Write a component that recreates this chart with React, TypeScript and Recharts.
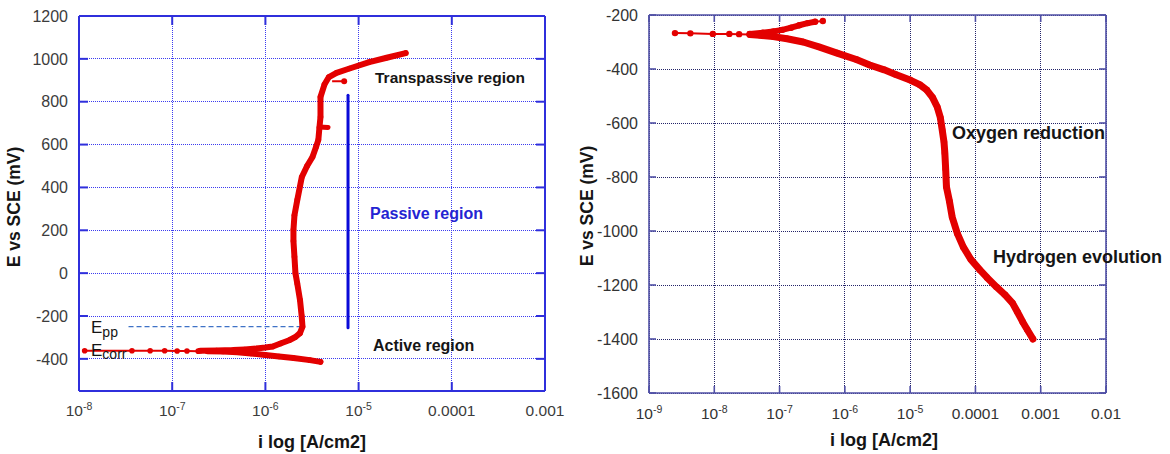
import React from 'react';
import { ComposedChart, Line, XAxis, YAxis, CartesianGrid } from 'recharts';

const FONT = '"Liberation Sans", Arial, Helvetica, sans-serif';
const RED = '#e30000';

// ---------- Left plot: passivating metal ----------
const passXTicks = [1e-8, 1e-7, 1e-6, 1e-5, 1e-4, 1e-3];
const passXTickText = ['10|-8', '10|-7', '10|-6', '10|-5', '0.0001', '0.001'];
const passYTicks = [-400, -200, 0, 200, 400, 600, 800, 1000, 1200];

// cathodic branch, scanned toward Ecorr
const passCathodicI = [3.9e-6, 3.0e-6, 2.0e-6, 1.4e-6, 1.0e-6, 7.0e-7, 5.0e-7, 3.5e-7, 2.4e-7, 1.9e-7, 1.44e-7, 1.13e-7, 8.3e-8, 5.8e-8, 3.7e-8, 1.15e-8];
const passCathodicE = [-414, -406, -396, -389, -382, -375, -369, -366, -364, -364, -363, -363, -362, -362, -362, -362];

// anodic branch: active, passive and transpassive regions
const passAnodicI = [2.0e-7, 3.0e-7, 4.5e-7, 6.0e-7, 8.0e-7, 1.0e-6, 1.2e-6, 1.45e-6, 1.8e-6, 2.1e-6, 2.35e-6, 2.5e-6, 2.45e-6, 2.35e-6, 2.2e-6, 2.1e-6, 2.05e-6, 2.0e-6, 2.0e-6, 2.05e-6, 2.2e-6, 2.46e-6, 2.8e-6, 3.2e-6, 3.5e-6, 3.7e-6, 3.8e-6, 3.9e-6, 3.9e-6, 4.3e-6, 4.8e-6, 5.8e-6, 8.0e-6, 1.3e-5, 2.0e-5, 3.2e-5];
const passAnodicE = [-362, -361, -359, -356, -352, -347, -342, -328, -313, -298, -280, -250, -200, -125, -50, 0, 76, 150, 202, 270, 342, 449, 500, 542, 590, 622, 680, 729, 822, 880, 915, 935, 955, 985, 1005, 1027];

// short current transients on the passive film
const transientAI = [3.8e-6, 4.7e-6];
const transientAE = [682, 680];
const transientBI = [5.2e-6, 7.0e-6];
const transientBE = [896, 895];

// passive range marker and primary passivation potential
const passiveBarI = [7.7e-6, 7.7e-6];
const passiveBarE = [-255, 830];
const eppI = [3.4e-8, 2.5e-6];
const eppE = [-250, -250];

// ---------- Right plot: oxygen / hydrogen cathodic reactions ----------
const corrXTicks = [1e-9, 1e-8, 1e-7, 1e-6, 1e-5, 1e-4, 1e-3, 1e-2];
const corrXTickText = ['10|-9', '10|-8', '10|-7', '10|-6', '10|-5', '0.0001', '0.001', '0.01'];
const corrYTicks = [-1600, -1400, -1200, -1000, -800, -600, -400, -200];

const corrCathodicI = [7.6e-4, 6.2e-4, 5.3e-4, 4.4e-4, 3.7e-4, 2.8e-4, 2.1e-4, 1.5e-4, 1.17e-4, 8.5e-5, 6.5e-5, 5.3e-5, 4.4e-5, 4.0e-5, 3.6e-5, 3.5e-5, 3.4e-5, 3.3e-5, 3.1e-5, 2.9e-5, 2.6e-5, 2.2e-5, 1.8e-5, 1.4e-5, 1.0e-5, 6.0e-6, 4.0e-6, 2.4e-6, 1.5e-6, 7.6e-7, 4.0e-7, 2.3e-7, 1.3e-7, 8.0e-8, 5.0e-8, 3.5e-8, 2.4e-8, 1.7e-8, 9.5e-9, 4.3e-9, 2.5e-9];
const corrCathodicE = [-1400, -1365, -1337, -1300, -1267, -1235, -1207, -1172, -1144, -1105, -1059, -1010, -948, -890, -837, -770, -711, -670, -626, -580, -541, -505, -478, -458, -441, -420, -403, -385, -365, -341, -318, -300, -288, -280, -275, -272, -271, -270, -270, -268, -267];

const corrAnodicI = [3.5e-8, 5.5e-8, 8.0e-8, 1.1e-7, 1.5e-7, 2.0e-7, 2.7e-7, 3.5e-7, 4.6e-7];
const corrAnodicE = [-270, -266, -261, -255, -247, -238, -230, -225, -222];

type Pt = { i: number; e: number };
const zip = (cur: number[], pot: number[]): Pt[] => cur.map((i, k) => ({ i, e: pot[k] }));

const BlankTick = () => <g />;

function XTick(props: any) {
  const { x, y, payload, ticks, texts, dy, fill } = props;
  const k = (ticks as number[]).findIndex((t) => Math.abs(t - payload.value) <= t * 1e-6);
  const [base, sup] = (texts[k] ?? '').split('|');
  return (
    <text x={x} y={y + dy} textAnchor="middle" fill={fill} fontSize={15.5} fontFamily={FONT}>
      {base}
      {sup ? (
        <tspan dy={-6} fontSize={10.5}>
          {sup}
        </tspan>
      ) : null}
    </text>
  );
}

const redDot = (r: number) => ({ r, fill: RED, stroke: RED, strokeWidth: 0 });

function PassivePlot() {
  const AX = '#2f2fdc';
  const GRID = '#3c3cf0';
  const cath = zip(passCathodicI, passCathodicE);
  const anod = zip(passAnodicI, passAnodicE);
  const dom: [number, number] = [1e-8, 1e-3];
  const ydom: [number, number] = [-550, 1200];
  const edge = { stroke: AX, strokeWidth: 2 };
  return (
    <ComposedChart width={570} height={454} margin={{ top: 16, right: 25, bottom: 0, left: 0 }}>
      <CartesianGrid stroke={GRID} strokeDasharray="1 1" strokeWidth={1} shapeRendering="crispEdges" />
      <XAxis
        xAxisId={0}
        dataKey="i"
        type="number"
        scale="log"
        domain={dom}
        ticks={passXTicks}
        interval={0}
        allowDataOverflow
        height={63}
        tickLine={false}
        tickSize={0}
        tickMargin={0}
        axisLine={edge}
        tick={(p: any) => <XTick {...p} ticks={passXTicks} texts={passXTickText} dy={25} fill="#3c3c3c" />}
      />
      <XAxis xAxisId="top" orientation="top" mirror dataKey="i" type="number" scale="log" domain={dom} ticks={passXTicks} interval={0} allowDataOverflow tick={BlankTick} tickLine={edge} tickSize={9} axisLine={edge} />
      <XAxis xAxisId="bot" orientation="bottom" mirror dataKey="i" type="number" scale="log" domain={dom} ticks={passXTicks} interval={0} allowDataOverflow tick={BlankTick} tickLine={edge} tickSize={9} axisLine={false} />
      <YAxis
        yAxisId={0}
        type="number"
        domain={ydom}
        ticks={passYTicks}
        interval={0}
        allowDataOverflow
        width={79}
        tickLine={false}
        tickSize={0}
        tickMargin={11}
        axisLine={edge}
        tick={{ fill: '#3c3c3c', fontSize: 16, fontFamily: FONT }}
      />
      <YAxis yAxisId="in" orientation="left" mirror type="number" domain={ydom} ticks={passYTicks} interval={0} allowDataOverflow tick={BlankTick} tickLine={edge} tickSize={9} axisLine={false} />
      <YAxis yAxisId="rt" orientation="right" mirror type="number" domain={ydom} ticks={passYTicks} interval={0} allowDataOverflow tick={BlankTick} tickLine={edge} tickSize={9} axisLine={edge} />

      <Line data={zip(eppI, eppE)} dataKey="e" stroke="#3f72c6" strokeWidth={1.2} strokeDasharray="5 3" dot={false} activeDot={false} isAnimationActive={false} />
      <Line data={zip(passiveBarI, passiveBarE)} dataKey="e" stroke="#0a0ad8" strokeWidth={3} strokeLinecap="round" dot={false} activeDot={false} isAnimationActive={false} />

      <Line data={cath} dataKey="e" stroke={RED} strokeWidth={2} dot={redDot(2.8)} activeDot={false} isAnimationActive={false} />
      <Line data={anod} dataKey="e" stroke={RED} strokeWidth={2} dot={redDot(2.8)} activeDot={false} isAnimationActive={false} />
      <Line data={cath.filter((p) => p.i >= 2.4e-7)} dataKey="e" stroke={RED} strokeWidth={6} strokeLinejoin="round" strokeLinecap="round" dot={false} activeDot={false} isAnimationActive={false} />
      <Line data={anod} dataKey="e" stroke={RED} strokeWidth={6} strokeLinejoin="round" strokeLinecap="round" dot={false} activeDot={false} isAnimationActive={false} />
      <Line data={zip(transientAI, transientAE)} dataKey="e" stroke={RED} strokeWidth={5} strokeLinecap="round" dot={false} activeDot={false} isAnimationActive={false} />
      <Line data={zip(transientBI, transientBE)} dataKey="e" stroke={RED} strokeWidth={2} dot={(p: any) => (p.index === 1 ? <circle key="tb" cx={p.cx} cy={p.cy} r={3} fill={RED} /> : <g key={'tb' + p.index} />)} activeDot={false} isAnimationActive={false} />
    </ComposedChart>
  );
}

function CathodicPlot() {
  const AX = '#5050a6';
  const GRID = '#242468';
  const cath = zip(corrCathodicI, corrCathodicE);
  const anod = zip(corrAnodicI, corrAnodicE);
  const dom: [number, number] = [1e-9, 1e-2];
  const ydom: [number, number] = [-1600, -200];
  const edge = { stroke: AX, strokeWidth: 1.6 };
  return (
    <ComposedChart width={600} height={454} margin={{ top: 15, right: 64, bottom: 0, left: 0 }}>
      <CartesianGrid stroke={GRID} strokeDasharray="1 1" strokeWidth={1} shapeRendering="crispEdges" />
      <XAxis
        xAxisId={0}
        dataKey="i"
        type="number"
        scale="log"
        domain={dom}
        ticks={corrXTicks}
        interval={0}
        allowDataOverflow
        height={61}
        tickLine={false}
        tickSize={0}
        tickMargin={0}
        axisLine={edge}
        tick={(p: any) => <XTick {...p} ticks={corrXTicks} texts={corrXTickText} dy={26} fill="#333333" />}
      />
      <XAxis xAxisId="top" orientation="top" mirror dataKey="i" type="number" scale="log" domain={dom} ticks={corrXTicks} interval={0} allowDataOverflow tick={BlankTick} tickLine={edge} tickSize={7} axisLine={edge} />
      <XAxis xAxisId="bot" orientation="bottom" mirror dataKey="i" type="number" scale="log" domain={dom} ticks={corrXTicks} interval={0} allowDataOverflow tick={BlankTick} tickLine={edge} tickSize={7} axisLine={false} />
      <YAxis
        yAxisId={0}
        type="number"
        domain={ydom}
        ticks={corrYTicks}
        interval={0}
        allowDataOverflow
        width={79}
        tickLine={false}
        tickSize={0}
        tickMargin={11}
        axisLine={edge}
        tick={{ fill: '#333333', fontSize: 16, fontFamily: FONT }}
      />
      <YAxis yAxisId="in" orientation="left" mirror type="number" domain={ydom} ticks={corrYTicks} interval={0} allowDataOverflow tick={BlankTick} tickLine={edge} tickSize={7} axisLine={false} />
      <YAxis yAxisId="rt" orientation="right" mirror type="number" domain={ydom} ticks={corrYTicks} interval={0} allowDataOverflow tick={BlankTick} tickLine={edge} tickSize={7} axisLine={edge} />

      <Line data={cath} dataKey="e" stroke={RED} strokeWidth={2} dot={redDot(3.2)} activeDot={false} isAnimationActive={false} />
      <Line data={anod} dataKey="e" stroke={RED} strokeWidth={2} dot={redDot(3.2)} activeDot={false} isAnimationActive={false} />
      <Line data={cath.filter((p) => p.i >= 3.5e-8)} dataKey="e" stroke={RED} strokeWidth={7} strokeLinejoin="round" strokeLinecap="round" dot={false} activeDot={false} isAnimationActive={false} />
      <Line data={anod.filter((p) => p.i <= 3.5e-7)} dataKey="e" stroke={RED} strokeWidth={6} strokeLinejoin="round" strokeLinecap="round" dot={false} activeDot={false} isAnimationActive={false} />
    </ComposedChart>
  );
}

function Titles() {
  const t = { fontFamily: FONT, fill: '#151515' } as const;
  return (
    <svg width={1170} height={454} style={{ position: 'absolute', left: 0, top: 0, pointerEvents: 'none' }}>
      <text transform="translate(14,207) rotate(-90)" textAnchor="middle" dominantBaseline="central" fontWeight="bold" fontSize={17.5} {...t}>
        E vs SCE (mV)
      </text>
      <text x={312} y={448} textAnchor="middle" fontWeight="bold" fontSize={18} {...t}>
        i log [A/cm2]
      </text>
      <text transform="translate(587,206) rotate(-90)" textAnchor="middle" dominantBaseline="central" fontWeight="bold" fontSize={17.5} {...t}>
        E vs SCE (mV)
      </text>
      <text x={884} y={446} textAnchor="middle" fontWeight="bold" fontSize={18} {...t}>
        i log [A/cm2]
      </text>

      <text x={375} y={83} fontWeight="bold" fontSize={15.5} {...t}>
        Transpassive region
      </text>
      <text x={370} y={219} fontWeight="bold" fontSize={16} fontFamily={FONT} fill="#2424d2">
        Passive region
      </text>
      <text x={373} y={351} fontWeight="bold" fontSize={16} {...t}>
        Active region
      </text>
      <text x={91} y={333} fontSize={17} {...t}>
        E<tspan fontSize={14} dy={4}>pp</tspan>
      </text>
      <text x={91} y={356} fontSize={17} {...t}>
        E<tspan fontSize={14} dy={3}>corr</tspan>
      </text>

      <text x={952} y={139} fontWeight="bold" fontSize={18} {...t}>
        Oxygen reduction
      </text>
      <text x={993} y={263} fontWeight="bold" fontSize={18} {...t}>
        Hydrogen evolution
      </text>
    </svg>
  );
}

export default function App() {
  return (
    <div style={{ position: 'absolute', left: 0, top: 0, width: 1170, height: 454, background: '#ffffff' }}>
      <div style={{ position: 'absolute', left: 0, top: 0 }}>
        <PassivePlot />
      </div>
      <div style={{ position: 'absolute', left: 570, top: 0 }}>
        <CathodicPlot />
      </div>
      <Titles />
    </div>
  );
}
